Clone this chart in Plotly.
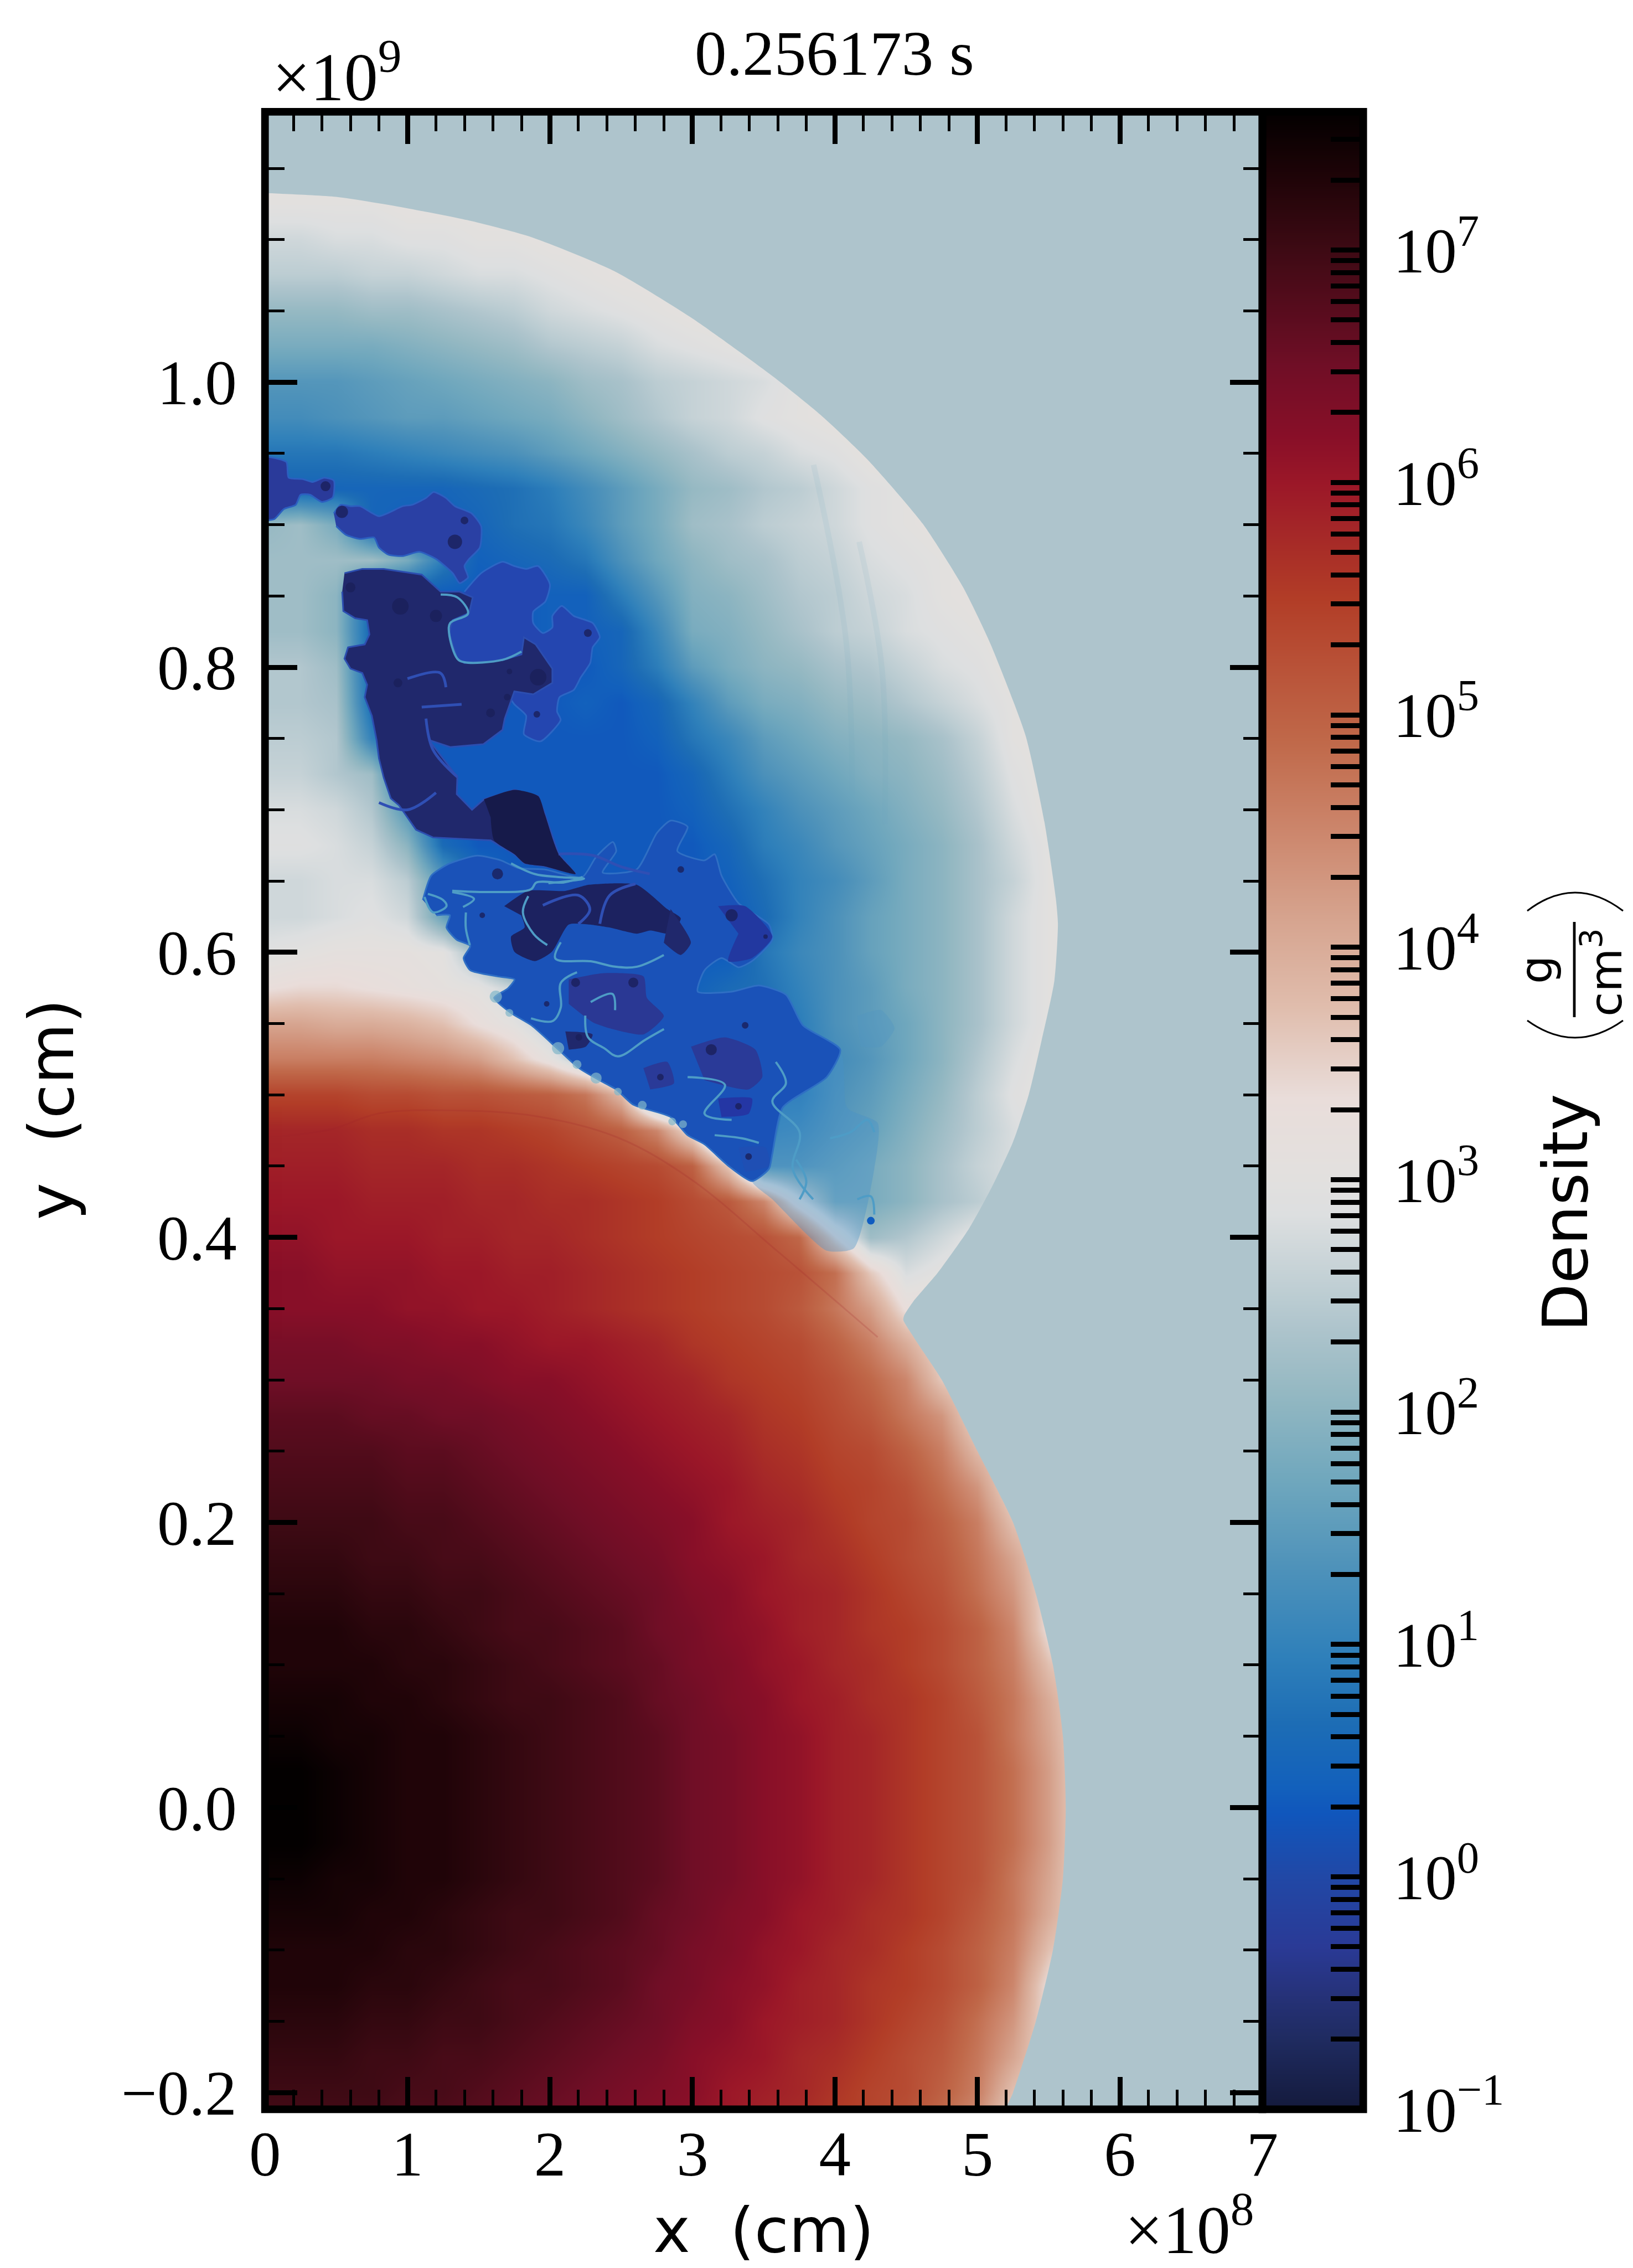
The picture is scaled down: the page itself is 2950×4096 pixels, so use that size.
import numpy as np
import plotly.graph_objects as go

W, H = 2950, 4096
TITLE = "0.256173 s"
x_tick_vals = [0, 1, 2, 3, 4, 5, 6, 7]
y_tick_vals = [-0.2, 0.0, 0.2, 0.4, 0.6, 0.8, 1.0]
y_tick_text = ["\u22120.2", "0.0", "0.2", "0.4", "0.6", "0.8", "1.0"]
cbar_decades = [-1, 0, 1, 2, 3, 4, 5, 6, 7]
cbar_text = ["10<sup>\u22121</sup>", "10<sup>0</sup>", "10<sup>1</sup>", "10<sup>2</sup>", "10<sup>3</sup>",
             "10<sup>4</sup>", "10<sup>5</sup>", "10<sup>6</sup>", "10<sup>7</sup>"]
cbar_multiples = [2, 3, 4, 5, 6, 7, 8, 9]

cmap_levels = [-1, -.7, -.5, -.3, 0, .27, .38, .66, .95, 1.33, 1.7, 2.08, 2.36, 2.47, 2.85, 3.04, 3.35, 3.74,
               4.12, 4.5, 4.88, 5.5, 6.0, 6.2, 6.5, 7.0, 7.3, 7.595]
cmap_colors = ["#141A3C", "#1F2B60", "#26327A", "#2A3A96", "#2148A6", "#1056BC", "#1260BC", "#1D6DB5", "#2F80BA",
               "#4E92BA", "#6FA7BD", "#94B8C2", "#AEC4CC", "#B9CBD1", "#DDDFE0", "#E3E0DE", "#E9DDDA", "#E0BDAD",
               "#D6A48F", "#CC866C", "#C0694A", "#B23D27", "#9B1728", "#880F28", "#700E26", "#3E0A14", "#200408",
               "#030000"]

# log10(density)*10, rows from y=1.2e9 downward in steps of 0.025e9,
# columns from x=0 in steps of 0.25e8; a short row repeats its last value to the right edge.
rows_upper = [
    [31], [31], [31],
    [30, 30, 30, 30, 31],
    [27, 27, 28, 28, 29, 29, 30, 30, 31],
    [25, 25, 25, 26, 26, 27, 28, 28, 29, 30, 31],
    [21, 21, 21, 22, 22, 23, 24, 25, 27, 28, 29, 30, 31],
    [18, 18, 18, 18, 19, 20, 21, 22, 24, 25, 26, 28, 29, 30, 31],
    [14, 14, 14, 15, 16, 17, 18, 19, 20, 22, 23, 25, 26, 27, 28, 30, 31],
    [12, 12, 13, 14, 15, 15, 16, 17, 18, 20, 22, 24, 26, 27, 29, 30, 31],
    [8, 8, 8, 9, 10, 11, 12, 13, 15, 17, 19, 21, 23, 25, 26, 28, 29, 31],
    [5, 5, 5, 5, 5, 5, 6, 7, 9, 12, 15, 18, 21, 22, 24, 25, 27, 29, 30, 31],
    [21, 22, 18, 5, 4, 4, 5, 7, 8, 11, 15, 18, 22, 23, 25, 26, 27, 29, 30, 31],
    [22, 22, 22, 22, 18, 9, 4, 5, 6, 8, 13, 17, 20, 22, 23, 25, 26, 28, 29, 30, 31],
    [22, 22, 20, 5, 3, 3, 3, 3, 4, 4, 9, 14, 19, 20, 22, 24, 25, 27, 28, 30, 31],
    [22, 22, 20, 5, 3, 3, 3, 3, 4, 4, 5, 11, 18, 19, 21, 23, 25, 26, 28, 29, 30, 31],
    [24, 24, 22, 5, 3, 3, 3, 3, 3, 3, 5, 9, 15, 18, 20, 21, 23, 24, 26, 28, 29, 31],
    [24, 24, 23, 6, 3, 3, 3, 3, 3, 4, 3, 5, 10, 15, 18, 19, 21, 22, 24, 26, 28, 30, 31],
    [25, 25, 24, 10, 3, 3, 3, 3, 3, 3, 3, 4, 8, 11, 15, 17, 19, 20, 21, 23, 26, 30, 31],
    [26, 26, 24, 22, 6, 3, 3, 3, 3, 3, 3, 3, 5, 9, 13, 15, 17, 19, 20, 22, 25, 29, 31],
    [28, 28, 27, 24, 14, 3, 3, 3, 3, 3, 3, 3, 4, 7, 10, 13, 15, 17, 19, 21, 24, 28, 31],
    [29, 29, 28, 26, 20, 6, 3, 3, 3, 3, 3, 3, 3, 5, 9, 11, 14, 16, 18, 20, 23, 27, 30, 31],
    [27, 27, 28, 28, 25, 15, 6, 3, 3, 3, 3, 3, 3, 4, 7, 10, 12, 15, 18, 20, 23, 26, 30, 31],
    [27, 27, 28, 29, 27, 16, 6, 4, 3, 3, 3, 3, 3, 3, 6, 10, 13, 16, 18, 20, 23, 27, 30, 31],
    [29, 30, 31, 31, 31, 30, 22, 8, 4, 3, 3, 3, 3, 3, 8, 11, 13, 16, 18, 20, 23, 27, 30, 31],
    [33, 34, 34, 33, 32, 31, 30, 26, 14, 6, 4, 4, 4, 6, 7, 10, 13, 15, 18, 20, 23, 27, 30, 31],
    [41, 41, 40, 40, 39, 37, 33, 30, 24, 13, 8, 6, 6, 6, 7, 9, 13, 15, 17, 20, 23, 27, 30, 31],
    [46, 46, 46, 46, 45, 44, 42, 37, 31, 22, 12, 8, 7, 7, 7, 9, 12, 14, 17, 20, 24, 28, 31],
    [54, 54, 54, 53, 53, 52, 52, 51, 50, 47, 38, 12, 8, 8, 8, 8, 13, 15, 18, 21, 25, 29, 31],
    [58, 58, 58, 57, 57, 56, 56, 55, 54, 52, 50, 45, 32, 10, 10, 11, 14, 16, 19, 22, 25, 28, 30, 31],
    [59, 59, 59, 58, 58, 58, 57, 57, 56, 55, 54, 53, 50, 36, 14, 14, 16, 18, 20, 23, 26, 28, 30, 31],
    [60, 60, 60, 59, 59, 59, 58, 58, 57, 57, 56, 55, 53, 51, 45, 30, 18, 18, 20, 23, 25, 28, 30, 31],
    [61, 61, 60, 60, 60, 59, 59, 58, 58, 57, 56, 55, 54, 53, 52, 49, 34, 22, 24, 27, 30, 31],
    [62, 62, 61, 61, 61, 60, 60, 59, 59, 58, 57, 56, 55, 54, 53, 52, 48, 36, 28, 30],
    [62, 62, 62, 62, 61, 61, 60, 60, 59, 58, 57, 56, 55, 54, 53, 51, 47, 42, 33],
    [64, 64, 64, 63, 63, 62, 62, 61, 60, 60, 59, 58, 56, 55, 54, 53, 50, 46, 40, 33],
    [65, 65, 65, 65, 64, 64, 63, 62, 62, 61, 60, 59, 58, 56, 55, 54, 52, 49, 45, 36, 33],
    [67, 67, 67, 66, 66, 65, 65, 64, 63, 62, 61, 60, 59, 58, 56, 55, 53, 51, 47, 43, 33],
    [68, 68, 68, 68, 67, 67, 66, 65, 64, 63, 62, 61, 60, 59, 57, 56, 54, 53, 50, 46, 38, 33],
]
rows_star_side = [
    [69, 69, 69, 69, 68, 68, 67, 66, 65, 64, 63, 62, 61, 60, 58, 57, 55, 54, 52, 48, 43, 33],
    [70, 70, 70, 70, 69, 69, 68, 67, 66, 65, 64, 63, 62, 60, 59, 58, 56, 54, 53, 50, 46, 37, 33],
    [71, 71, 71, 70, 70, 69, 69, 68, 67, 66, 65, 64, 62, 61, 60, 58, 57, 55, 53, 51, 47, 41, 33],
    [72, 72, 72, 71, 71, 70, 70, 69, 68, 67, 66, 65, 63, 62, 60, 59, 58, 56, 54, 52, 48, 43, 33],
    [73, 73, 73, 72, 72, 71, 70, 69, 69, 68, 67, 65, 64, 62, 61, 59, 58, 56, 55, 53, 50, 45, 33],
    [73, 73, 73, 73, 72, 72, 71, 70, 69, 68, 67, 66, 64, 63, 61, 60, 58, 57, 55, 53, 50, 46, 37, 33],
    [74, 74, 74, 73, 73, 72, 71, 70, 70, 69, 68, 66, 65, 63, 62, 60, 59, 57, 56, 54, 51, 47, 40, 33],
    [75, 75, 74, 74, 73, 73, 72, 71, 70, 69, 68, 67, 65, 64, 62, 61, 59, 58, 56, 54, 52, 47, 41, 33],
    [76, 76, 75, 74, 73, 73, 72, 71, 70, 69, 68, 67, 65, 64, 62, 61, 59, 58, 56, 54, 52, 48, 42, 33],
]
row_centre = [76, 76, 75, 74, 73, 73, 72, 71, 70, 69, 68, 67, 65, 64, 62, 61, 59, 58, 56, 54, 52, 48, 42, 33]

ambient_edge = [(-.1, 1.3), (-.1, 1.1326), (0, 1.1326), (.5, 1.13), (1.0, 1.122), (1.45, 1.113), (1.875, 1.1016), (2.45, 1.078),
    (2.995, 1.045), (3.566, 1.004), (3.9, .977), (4.235, .945), (4.616, .9007), (4.90, .856), (5.09, .8167), (5.338, .752),
    (5.47, .6916), (5.55, .638), (5.565, .62), (5.54, .58), (5.45, .538), (5.36, .5), (5.25, .467), (5.1, .435),
    (4.94, .406), (4.72, .375), (4.55, .355), (4.485, .345), (4.48, .342), (4.54, .332), (4.585, .325), (4.75, .3), (5.0, .25), (5.25, .2), (5.41, .15),
    (5.53, .1), (5.60, .05), (5.62, 0), (5.60, -.05), (5.53, -.1), (5.41, -.15), (5.25, -.2), (5.2, -.2117),
    (5.1, -.3), (7.2, -.3), (7.2, 1.3)]

light_plume = [(3.561, .5295), (4.037, .5295), (4.085, .491), (4.30, .4803), (4.276, .4481), (4.133, .3924), (3.942, .3907),
    (3.561, .4267), (3.418, .4395), (3.561, .4588), (3.633, .491)]
soft_blob = [(4.157, .5553), (4.323, .5595), (4.419, .5467), (4.323, .5338), (4.18, .5338)]
lower_zone = [(1.108, .6367), (1.167, .6538), (1.298, .6624), (1.489, .6678), (1.656, .6645), (1.775, .6592), (1.965, .6581),
    (2.227, .6528), (2.322, .6667), (2.442, .6774), (2.465, .671), (2.37, .656), (2.608, .6581), (2.751, .6838),
    (2.847, .6924), (2.966, .6881), (2.894, .671), (3.085, .6645), (3.156, .6688), (3.204, .6538), (3.323, .6345),
    (3.537, .6195), (3.561, .6088), (3.418, .5938), (3.323, .5895), (3.204, .596), (3.085, .5874), (3.037, .5724),
    (3.275, .5724), (3.466, .5767), (3.656, .5703), (3.775, .5488), (4.037, .5317), (3.942, .5124), (3.633, .491),
    (3.561, .4588), (3.537, .4481), (3.418, .4395), (3.251, .4503), (3.085, .4653), (2.966, .4717), (2.847, .4845),
    (2.584, .4931), (2.465, .5038), (2.346, .5103), (2.203, .5188), (2.06, .5317), (1.87, .5488), (1.727, .5574),
    (1.608, .5681), (1.703, .5745), (1.751, .581), (1.632, .5831), (1.441, .5874), (1.394, .596), (1.441, .6045),
    (1.346, .6088), (1.274, .6174), (1.298, .626), (1.203, .626)]
top_lobe = [(0, .948), (.15, .944), (.166, .933), (.266, .932), (.333, .930), (.416, .933), (.483, .931), (.475, .919),
    (.40, .916), (.316, .921), (.25, .921), (.216, .914), (.133, .911), (.066, .904), (0, .903)]
upper_band = [(.483, .908), (.533, .914), (.60, .913), (.667, .913), (.80, .906), (.966, .913), (1.033, .914), (1.133, .919),
    (1.183, .923), (1.267, .919), (1.333, .913), (1.45, .908), (1.517, .899), (1.508, .884), (1.433, .876), (1.40, .871),
    (1.425, .863), (1.366, .859), (1.317, .866), (1.20, .876), (1.083, .881), (.966, .878), (.866, .879), (.80, .884),
    (.766, .891), (.667, .890), (.567, .893), (.50, .899)]
right_lobe = [(1.40, .853), (1.517, .866), (1.667, .874), (1.75, .871), (1.833, .869), (1.917, .871), (2.0, .858), (1.967, .846),
    (1.883, .839), (1.883, .831), (1.95, .824), (2.017, .828), (2.017, .836), (2.083, .843), (2.167, .836), (2.30, .831),
    (2.35, .821), (2.30, .814), (2.283, .803), (2.217, .793), (2.167, .784), (2.067, .779), (2.05, .769), (2.075, .763),
    (1.933, .748), (1.817, .753), (1.833, .766), (1.75, .774), (1.667, .786), (1.517, .799), (1.35, .806), (1.292, .824),
    (1.317, .833), (1.433, .838)]
main_dark = [(.558, .866), (.683, .869), (.833, .869), (1.10, .865), (1.233, .853), (1.366, .853), (1.458, .849), (1.433, .838),
    (1.317, .833), (1.292, .824), (1.35, .806), (1.40, .803), (1.667, .805), (1.80, .809), (1.817, .821), (1.90, .816),
    (2.017, .799), (2.017, .789), (1.883, .781), (1.75, .783), (1.683, .764), (1.667, .756), (1.533, .746), (1.30, .744),
    (1.15, .749), (1.25, .736), (1.35, .723), (1.346, .711), (1.453, .700), (1.537, .7074), (1.751, .714), (1.918, .7096),
    (1.965, .6967), (2.06, .669), (2.18, .655), (1.965, .6603), (1.822, .6624), (1.751, .6688), (1.584, .6785),
    (1.179, .6806), (1.06, .686), (.941, .7031), (.883, .708), (.833, .7227), (.80, .736), (.783, .749), (.75, .766),
    (.70, .779), (.717, .7877), (.683, .796), (.60, .799), (.558, .806), (.583, .814), (.70, .816), (.733, .823),
    (.717, .833), (.633, .8344), (.55, .8394), (.542, .853)]
dark_core = [(1.537, .7074), (1.751, .714), (1.918, .7096), (1.965, .6967), (2.06, .669), (2.18, .655), (1.965, .6603),
    (1.822, .6624), (1.751, .6688), (1.608, .6785), (1.584, .6946)]
lower_dark = [(1.679, .6324), (1.846, .6431), (2.108, .6431), (2.275, .6474), (2.608, .6474), (2.823, .6303), (2.918, .6238),
    (2.847, .6131), (2.704, .6153), (2.608, .6131), (2.418, .6174), (2.275, .6195), (2.132, .6195), (2.013, .6003),
    (1.894, .5938), (1.751, .6003), (1.727, .611), (1.822, .6174), (1.798, .626)]
mid_patch_a = [(2.132, .581), (2.37, .5853), (2.656, .5831), (2.68, .5681), (2.799, .5553), (2.656, .5424), (2.418, .5467),
    (2.299, .551), (2.132, .5638)]
mid_patch_b = [(2.99, .5338), (3.228, .5403), (3.442, .5317), (3.49, .5124), (3.394, .5038), (3.085, .5103)]
patch_c = [(2.847, .6303), (2.989, .6067), (2.918, .5981), (2.799, .6067)]
patch_d = [(3.18, .4974), (3.418, .4974), (3.394, .4867), (3.204, .4845)]
patch_e = [(2.656, .5188), (2.823, .5231), (2.87, .5081), (2.704, .5038)]
patch_f = [(3.323, .4631), (3.513, .4631), (3.537, .4503), (3.37, .446)]
patch_g = [(2.108, .5445), (2.299, .5424), (2.251, .5338), (2.132, .5317)]
patch_h = [(3.18, .6324), (3.37, .6324), (3.561, .611), (3.418, .596), (3.251, .5938), (3.323, .6131)]

teal_wisps = [
    [(1.727, .6624), (1.894, .6549), (2.06, .6528), (2.239, .6517), (1.989, .6485)],
    [(1.314, .6432), (1.581, .6423), (1.867, .6442), (1.905, .649), (2.096, .649), (2.229, .6528)],
    [(1.848, .6394), (1.81, .628), (1.886, .6128), (1.981, .6051)],
    [(2.076, .607), (2.038, .5956), (2.286, .5937), (2.457, .5899), (2.61, .5899), (2.799, .5981)],
    [(2.19, .586), (2.076, .5785), (2.076, .5613), (2.019, .5518), (1.867, .5537)],
    [(2.286, .5651), (2.438, .5708), (2.457, .5594)],
    [(2.248, .5556), (2.267, .5404), (2.381, .5327), (2.477, .527), (2.667, .5385), (2.80, .5461)],
    [(1.39, .6318), (1.467, .6375), (1.314, .6423)],
    [(1.41, .628), (1.41, .6166), (1.438, .6051)],
    [(1.12, .6388), (1.179, .6281), (1.274, .6324), (1.25, .6367), (1.143, .641)],
    [(2.966, .5124), (3.228, .507), (3.085, .4867), (3.275, .4824)],
    [(3.156, .4717), (3.347, .4695), (3.466, .4663)],
    [(3.585, .5231), (3.656, .5081), (3.561, .4953), (3.752, .4738), (3.704, .4481), (3.847, .4267)],
    [(3.966, .4695), (4.109, .4738), (4.228, .4824), (4.276, .4738)],
    [(3.728, .4545), (3.799, .4395), (3.752, .4267)],
    [(4.157, .4267), (4.252, .4288), (4.276, .416)],
    [(1.233, .851), (1.35, .849), (1.425, .8377), (1.30, .831), (1.292, .824), (1.35, .806), (1.40, .8035), (1.667, .8052), (1.80, .811)],
]
blue_veins = [
    [(1.0, .792), (1.23, .796), (1.27, .786)],
    [(1.10, .772), (1.38, .774)],
    [(1.13, .764), (1.18, .742), (1.35, .723)],
    [(.80, .705), (1.0, .70), (1.2, .712)],
    [(2.06, .669), (2.3, .668), (2.5, .66), (2.7, .655)],
    [(1.95, .633), (2.2, .64), (2.28, .63), (2.2, .62)],
    [(2.35, .62), (2.42, .64), (2.6, .648)],
]
star_kink = [(0, .47), (.457, .4756), (.80, .487), (1.334, .489), (1.905, .485), (2.477, .47), (2.987, .441), (3.6, .39), (4.3, .33)]
shell_streak_a = [(3.85, .942), (4.08, .817), (4.12, .69)]
shell_streak_b = [(4.17, .888), (4.33, .799), (4.35, .69)]

spot_x = [.95, 1.2, .60, 1.333, 1.40, .425, .54, 2.266, 1.917, 1.908, 1.583, .933, 1.716, 1.70,
          3.275, 3.513, 3.132, 1.977, 1.632, 1.525, 2.775, 3.394, 3.323, 2.918, 2.585, 2.18, 2.203, 3.37]
spot_y = [.8427, .836, .856, .888, .903, .927, .909, .824, .793, .767, .768, .789, .797, .779,
          .626, .611, .5317, .5638, .655, .626, .5124, .4567, .492, .6581, .5788, .5788, .5403, .5488]
spot_size = [30, 22, 18, 26, 14, 18, 22, 14, 30, 12, 16, 16, 10, 12, 22, 8, 20, 10, 20, 10, 12, 12, 12, 12, 18, 16, 12, 12]
speck_x = [2.057, 2.19, 2.324, 2.477, 2.648, 2.858, 2.934, 1.62, 1.715]
speck_y = [.5327, .5213, .5118, .5022, .4927, .4813, .4794, .5689, .5575]
speck_size = [22, 16, 20, 14, 16, 14, 14, 22, 14]
blue_spot_x = [4.252]
blue_spot_y = [.4117]

rows = rows_upper + rows_star_side + [row_centre] + rows_star_side[::-1]
density = np.array([r + [r[-1]] * (29 - len(r)) for r in rows], dtype=float)[::-1] / 10
grid_y = np.round(1.2 - 0.025 * np.arange(len(rows)), 3)[::-1]
grid_x = 0.25 * np.arange(29)

F = W / 3069
L, R, T, B, CR = 498 * F, 2372.5 * F, 210 * F, 3963 * F, 2562 * F
YLOW, YHIGH = -0.2117, 1.1897
VMIN, VMAX = -1.0, 7.595
px = lambda v: v / W
py = lambda v: 1 - v / H

scale = [[(v - VMIN) / (VMAX - VMIN), c] for v, c in zip(cmap_levels, cmap_colors)]
fig = go.Figure()
fig.add_trace(go.Heatmap(x=grid_x, y=grid_y, z=density, coloraxis="coloraxis", zsmooth="best", hoverinfo="skip"))
cb_levels = np.linspace(VMIN, VMAX, 345)
fig.add_trace(go.Heatmap(x=[0, 1], y=cb_levels, z=[[v, v] for v in cb_levels], coloraxis="coloraxis",
                         zsmooth="best", xaxis="x2", yaxis="y2", hoverinfo="skip"))


def poly(points, color, edge=None, shape="linear"):
    fig.add_trace(go.Scatter(x=[p[0] for p in points], y=[p[1] for p in points], mode="lines", fill="toself",
                             fillcolor=color, line=dict(width=3 if edge else 0, color=edge or color, shape=shape, smoothing=0.6),
                             hoverinfo="skip", showlegend=False))


def line(points, color, width, opacity=1.0):
    fig.add_trace(go.Scatter(x=[p[0] for p in points], y=[p[1] for p in points], mode="lines", opacity=opacity,
                             line=dict(color=color, width=width, shape="spline"), hoverinfo="skip", showlegend=False))


line(star_kink, "#9E2029", 3, 0.18)
line(shell_streak_a, "#6BA6BE", 10, 0.1)
line(shell_streak_b, "#6BA6BE", 10, 0.1)
poly(soft_blob, "rgba(80,150,195,0.35)", shape="spline")
poly(light_plume, "rgba(70,145,200,0.38)", shape="spline")
poly(lower_zone, "#1A52B8", edge="#2F6FC4", shape="spline")
poly(top_lobe, "#2A3A9A", edge="#2C5FC0", shape="spline")
poly(upper_band, "#2A40A4", edge="#2C5FC0", shape="spline")
poly(right_lobe, "#2446B0", edge="#2C66C4", shape="spline")
poly(main_dark, "#20286C", edge="#2C4EB0")
poly(dark_core, "#161A4A", shape="spline")
poly(lower_dark, "#1C2260", shape="spline")
poly(mid_patch_a, "#2A3894", shape="spline")
poly(mid_patch_b, "#2A3A98", shape="spline")
poly(patch_c, "#20286C", shape="spline")
poly(patch_d, "#2436A4", shape="spline")
poly(patch_e, "#2A3A98", shape="spline")
poly(patch_f, "#1F4FB4", shape="spline")
poly(patch_g, "#20286C", shape="spline")
poly(patch_h, "#2238A0", shape="spline")
for w in blue_veins:
    line(w, "#2F4FB4", 5)
for w in teal_wisps:
    line(w, "#4E9CC6", 4)
fig.add_trace(go.Scatter(x=spot_x, y=spot_y, mode="markers", hoverinfo="skip", showlegend=False,
                         marker=dict(color="#1A1F5A", opacity=0.8, size=spot_size, line=dict(width=0))))
fig.add_trace(go.Scatter(x=speck_x, y=speck_y, mode="markers", hoverinfo="skip", showlegend=False,
                         marker=dict(color="#82B6C9", size=speck_size, line=dict(width=0))))
fig.add_trace(go.Scatter(x=blue_spot_x, y=blue_spot_y, mode="markers", hoverinfo="skip", showlegend=False,
                         marker=dict(color="#0F5CC0", size=14, line=dict(width=0))))
poly(ambient_edge, "#AEC4CC", shape="spline")

fig.update_layout(
    width=W, height=H, margin=dict(l=0, r=0, t=0, b=0), paper_bgcolor="white", plot_bgcolor="white", showlegend=False,
    font=dict(family="Liberation Serif", color="black", size=115),
    coloraxis=dict(colorscale=scale, cmin=VMIN, cmax=VMAX, showscale=False),
    xaxis=dict(domain=[px(L), px(R)], range=[0, 7], automargin=False, tickmode="array", tickvals=x_tick_vals, ticktext=[str(v) for v in x_tick_vals],
               ticks="inside", ticklen=58.6, tickwidth=8.6, tickcolor="black", mirror="allticks", showgrid=False, zeroline=False,
               showline=False, ticklabelstandoff=4, tickfont=dict(size=115),
               minor=dict(tick0=0, dtick=0.2, ticks="inside", ticklen=35, tickwidth=4.8, tickcolor="black", showgrid=False)),
    yaxis=dict(domain=[py(B), py(T)], range=[YLOW, YHIGH], automargin=False, tickmode="array", tickvals=y_tick_vals, ticktext=y_tick_text,
               ticks="inside", ticklen=58.6, tickwidth=8.6, tickcolor="black", mirror="allticks", showgrid=False, zeroline=False,
               showline=False, ticklabelstandoff=50, tickfont=dict(size=115),
               minor=dict(tick0=0, dtick=0.05, ticks="inside", ticklen=35, tickwidth=4.8, tickcolor="black", showgrid=False)),
    xaxis2=dict(domain=[px(R), px(CR)], range=[0, 1], automargin=False, anchor="y2", showticklabels=False, ticks="", showgrid=False, zeroline=False),
    yaxis2=dict(domain=[py(B), py(T)], range=[VMIN, VMAX], automargin=False, anchor="x2", side="right", tickmode="array", tickvals=cbar_decades,
                ticktext=cbar_text, ticks="inside", ticklen=58.6, tickwidth=9.4, tickcolor="black", showgrid=False, zeroline=False,
                showline=False, ticklabelstandoff=53, tickfont=dict(size=115),
                minor=dict(tickmode="array", tickvals=[float(np.log10(m) + d) for d in cbar_decades for m in cbar_multiples],
                           ticks="inside", ticklen=58.6, tickwidth=9.4, tickcolor="black", showgrid=False)),
)

frame = dict(type="rect", xref="paper", yref="paper", layer="above", line=dict(color="black", width=13.8), fillcolor="rgba(0,0,0,0)")
fig.add_shape(x0=px(L), x1=px(R), y0=py(B), y1=py(T), **frame)
fig.add_shape(x0=px(R), x1=px(CR), y0=py(B), y1=py(T), **frame)
fig.add_shape(type="line", xref="paper", yref="paper", x0=px(2844), x1=px(2844), y0=py(1665), y1=py(1837), line=dict(color="black", width=4.8))
arc = lambda x0, y0, xc, yc, x1, y1: f"M {px(x0)} {py(y0)} Q {px(xc)} {py(yc)} {px(x1)} {py(y1)}"
fig.add_shape(type="path", xref="paper", yref="paper", path=arc(2759, 1645, 2845, 1579, 2932, 1645), line=dict(color="black", width=3))
fig.add_shape(type="path", xref="paper", yref="paper", path=arc(2759, 1843, 2845, 1905, 2932, 1843), line=dict(color="black", width=3))


def note(text, x, y, size, family="Liberation Serif", angle=0, xanchor="center"):
    fig.add_annotation(text=text, x=px(x), y=py(y), xref="paper", yref="paper", showarrow=False, textangle=angle,
                       xanchor=xanchor, yanchor="middle", font=dict(family=family, size=size, color="black"))


note(TITLE, 1507, 96, 115)
note("\u00d710<sup>9</sup>", 490, 130, 122, xanchor="left")
note("\u00d710<sup>8</sup>", 2030, 4018, 122, xanchor="left")
note("x\u00a0\u00a0(cm)", 1379, 4028, 113, family="DejaVu Sans")
note("y\u00a0\u00a0(cm)", 93, 2004, 113, family="DejaVu Sans", angle=-90)
note("Density", 2828, 2190, 113, family="DejaVu Sans", angle=-90)
note("g", 2775, 1752, 81, family="DejaVu Sans", angle=-90)
note("cm<sup>3</sup>", 2895, 1756, 81, family="DejaVu Sans", angle=-90)

fig.write_html("out.html", config={"displayModeBar": False}, post_script="document.body.style.margin='0';")
